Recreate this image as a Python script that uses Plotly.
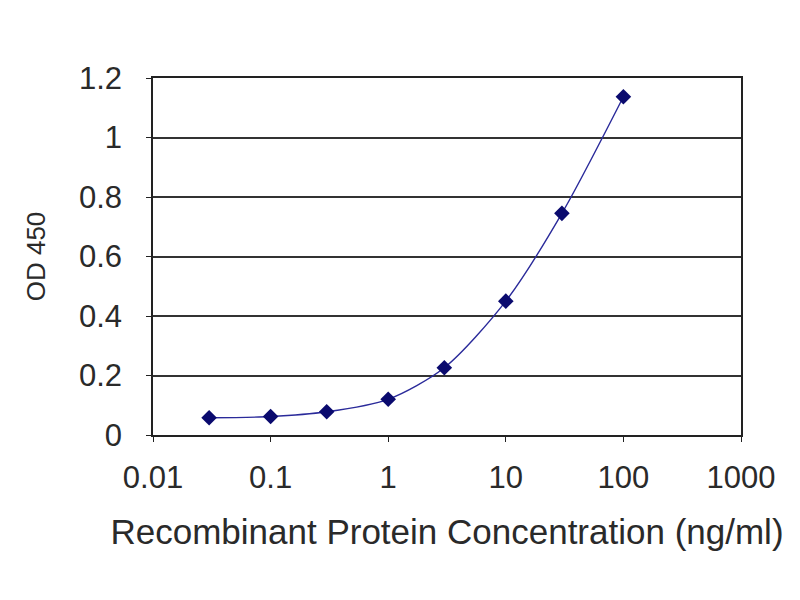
import plotly.graph_objects as go

concentration = [0.03, 0.1, 0.3, 1, 3, 10, 30, 100]
od450 = [0.058, 0.062, 0.078, 0.12, 0.226, 0.45, 0.745, 1.137]

x_tickvals = [0.01, 0.1, 1, 10, 100, 1000]
x_ticktext = ["0.01", "0.1", "1", "10", "100", "1000"]
y_tickvals = [0, 0.2, 0.4, 0.6, 0.8, 1.0, 1.2]
y_ticktext = ["0", "0.2", "0.4", "0.6", "0.8", "1", "1.2"]

fig = go.Figure()
fig.add_trace(go.Scatter(
    x=concentration, y=od450,
    mode="lines+markers",
    line=dict(color="#2a2a9a", width=1.4, shape="spline", smoothing=0.8),
    marker=dict(symbol="diamond", size=12, color="#0a0a6e"),
    showlegend=False,
))

font_family = "Liberation Sans, Arial, sans-serif"
txt = "#2a2a2a"
fig.update_layout(
    width=800, height=600,
    paper_bgcolor="white", plot_bgcolor="white",
    margin=dict(l=145, r=67, t=70, b=173),
    font=dict(family=font_family, size=31, color=txt),
    xaxis=dict(
        type="log", range=[-2, 3],
        tickvals=x_tickvals, ticktext=x_ticktext,
        showgrid=False, zeroline=False,
        showline=True, linecolor="#222", linewidth=1.6, mirror=True,
        ticks="outside", ticklen=5, tickcolor="#222",
        tickfont=dict(size=31, color=txt),
        ticklabelstandoff=9,
        title=dict(text="Recombinant Protein Concentration (ng/ml)",
                   font=dict(size=35, color=txt), standoff=25),
    ),
    yaxis=dict(
        range=[0, 1.2],
        tickvals=y_tickvals, ticktext=y_ticktext,
        showgrid=True, gridcolor="#333", gridwidth=1.8,
        zeroline=False,
        showline=True, linecolor="#222", linewidth=1.6, mirror=True,
        ticks="outside", ticklen=5, tickcolor="#222",
        tickfont=dict(size=31, color=txt),
        ticklabelstandoff=18,
        title=dict(text="OD 450", font=dict(size=26, color=txt), standoff=26),
    ),
)

fig.write_html("out.html")
